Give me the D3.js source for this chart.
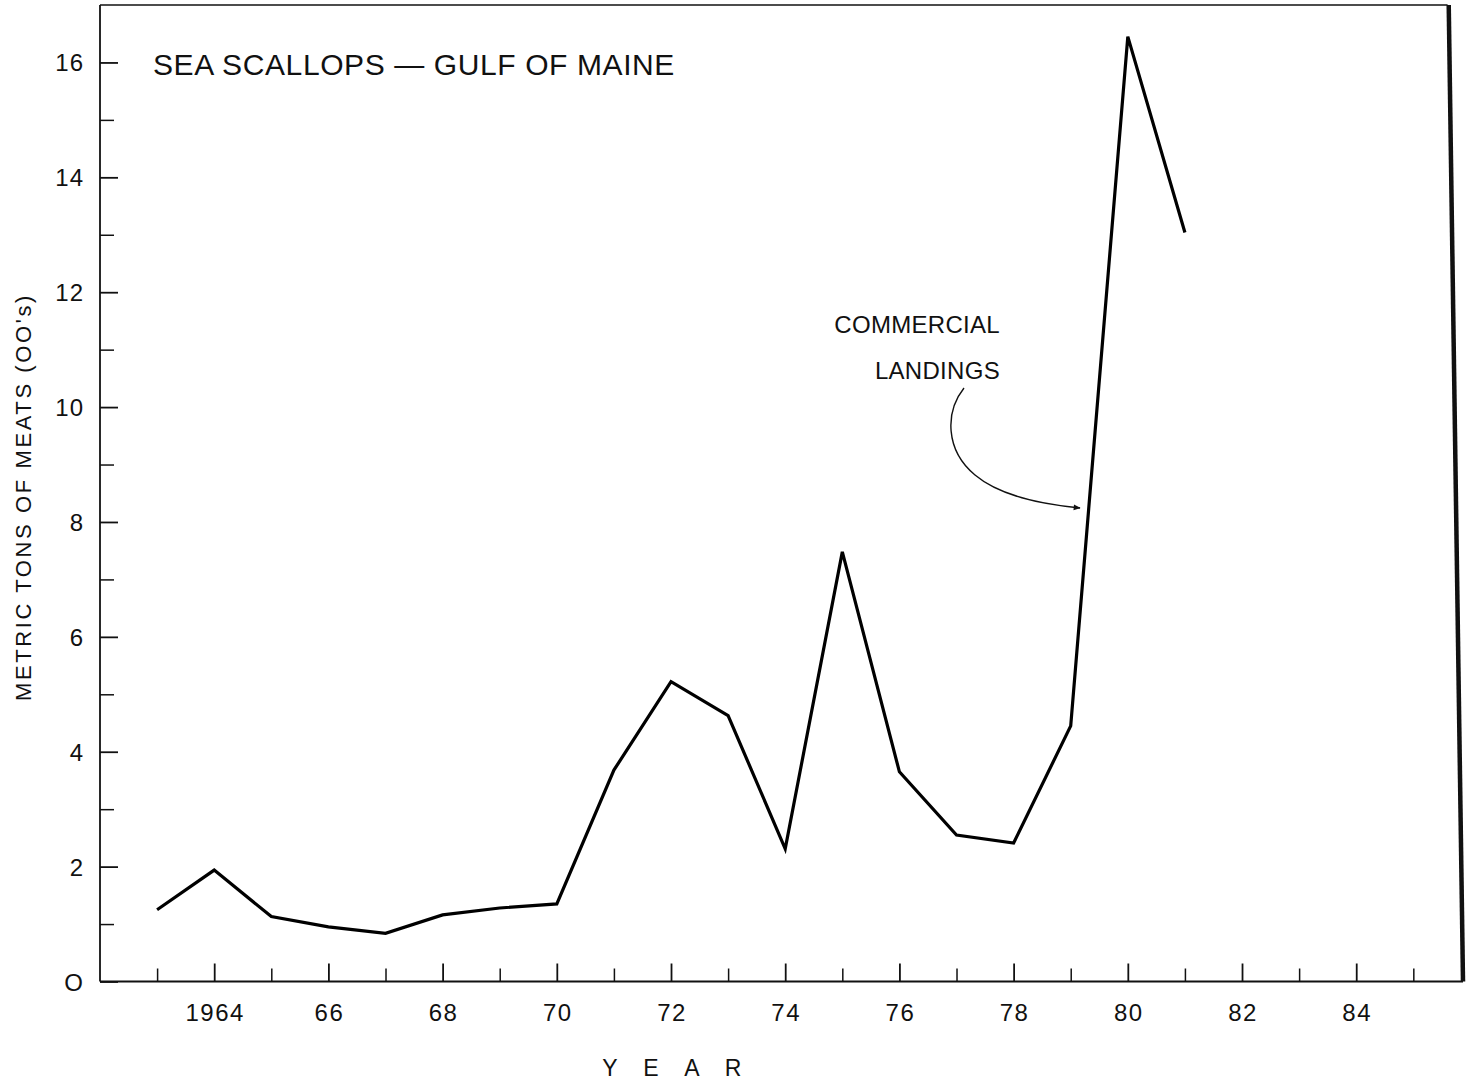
<!DOCTYPE html>
<html><head><meta charset="utf-8">
<script src="https://cdn.jsdelivr.net/npm/d3@7"></script>
<style>body{margin:0;background:#fff}svg{display:block}text{font-family:"Liberation Sans",Arial,sans-serif;fill:#111}</style>
</head><body>
<script>
const years = [1963,1964,1965,1966,1967,1968,1969,1970,1971,1972,1973,1974,1975,1976,1977,1978,1979,1980,1981];
const landings = [1.25,1.94,1.13,0.95,0.84,1.16,1.28,1.35,3.68,5.22,4.63,2.31,7.48,3.65,2.55,2.41,4.45,16.45,13.04];
const xMajorTicks = [1964,1966,1968,1970,1972,1974,1976,1978,1980,1982,1984];
const xTickLabels = ["1964","66","68","70","72","74","76","78","80","82","84"];
const xMinorTicks = [1963,1965,1967,1969,1971,1973,1975,1977,1979,1981,1983,1985];
const yMajorTicks = [0,2,4,6,8,10,12,14,16];
const yMinorTicks = [1,3,5,7,9,11,13,15];
const xTitleLetters = ["Y","E","A","R"];

const W=1470,H=1084;
const svg=d3.select("body").append("svg").attr("width",W).attr("height",H);
const x=d3.scaleLinear().domain([1962,1985.87]).range([100,1463]);
const y=d3.scaleLinear().domain([0,17]).range([981.5,5]);

// frame
svg.append("line").attr("x1",x(1962)).attr("x2",x(1985.6)).attr("y1",y(17)).attr("y2",y(17)).attr("stroke","#111").attr("stroke-width",1.6);
svg.append("line").attr("x1",x(1962)).attr("x2",x(1962)).attr("y1",y(17)).attr("y2",y(0)).attr("stroke","#111").attr("stroke-width",1.8);
svg.append("line").attr("x1",x(1962)).attr("x2",x(1985.87)).attr("y1",y(0)).attr("y2",y(0)).attr("stroke","#111").attr("stroke-width",2.2);
svg.append("line").attr("x1",x(1985.62)).attr("x2",x(1985.87)).attr("y1",y(17)).attr("y2",y(0)).attr("stroke","#111").attr("stroke-width",4.5);

// x axis ticks (inward)
const gx=svg.append("g").attr("transform",`translate(0,${y(0)})`).call(d3.axisTop(x).tickValues(xMajorTicks).tickSize(18).tickFormat(""));
gx.select(".domain").remove();
gx.selectAll("line").attr("stroke","#111").attr("stroke-width",1.8);
const gx2=svg.append("g").attr("transform",`translate(0,${y(0)})`).call(d3.axisTop(x).tickValues(xMinorTicks).tickSize(13).tickFormat(""));
gx2.select(".domain").remove();
gx2.selectAll("line").attr("stroke","#111").attr("stroke-width",1.5);
svg.append("g").selectAll("text").data(xMajorTicks).join("text")
  .attr("x",d=>x(d)+1).attr("y",y(0)+39).attr("text-anchor","middle")
  .attr("font-size",24).attr("letter-spacing",1.5).text((d,i)=>xTickLabels[i]);

// y axis ticks (inward)
const gy=svg.append("g").attr("transform",`translate(${x(1962)},0)`).call(d3.axisRight(y).tickValues(yMajorTicks).tickSize(18).tickFormat(""));
gy.select(".domain").remove();
gy.selectAll("line").attr("stroke","#111").attr("stroke-width",1.8);
const gy2=svg.append("g").attr("transform",`translate(${x(1962)},0)`).call(d3.axisRight(y).tickValues(yMinorTicks).tickSize(14).tickFormat(""));
gy2.select(".domain").remove();
gy2.selectAll("line").attr("stroke","#111").attr("stroke-width",1.5);
svg.append("g").selectAll("text").data(yMajorTicks).join("text")
  .attr("x",84).attr("y",d=>y(d)+9).attr("text-anchor","end")
  .attr("font-size",24).attr("letter-spacing",1).text(d=>d===0?"O":d);

// series line
const line=d3.line().x((d,i)=>x(years[i])).y(d=>y(d));
svg.append("path").datum(landings).attr("d",line).attr("fill","none")
  .attr("stroke","#000").attr("stroke-width",3.2).attr("stroke-linejoin","miter");

// title
svg.append("text").attr("x",153).attr("y",75).attr("font-size",30).attr("letter-spacing",0.6)
  .text("SEA SCALLOPS — GULF OF MAINE");

// axis labels
svg.append("text").attr("transform","translate(31,497) rotate(-90)").attr("text-anchor","middle")
  .attr("font-size",22).attr("letter-spacing",2.6).text("METRIC TONS OF MEATS (OO's)");
svg.append("g").selectAll("text").data(xTitleLetters).join("text")
  .attr("x",(d,i)=>610+i*41).attr("y",1076).attr("text-anchor","middle")
  .attr("font-size",23).text(d=>d);

// annotation
svg.append("text").attr("x",1000).attr("y",333).attr("text-anchor","end").attr("font-size",24).attr("letter-spacing",0.3).text("COMMERCIAL");
svg.append("text").attr("x",1000).attr("y",379).attr("text-anchor","end").attr("font-size",24).attr("letter-spacing",0.3).text("LANDINGS");
svg.append("defs").append("marker").attr("id","ah").attr("viewBox","0 0 10 10")
  .attr("refX",9).attr("refY",5).attr("markerWidth",10).attr("markerHeight",7).attr("orient","auto")
  .attr("markerUnits","userSpaceOnUse")
  .append("path").attr("d","M0,1 L10,5 L0,9 Z").attr("fill","#111");
svg.append("path").attr("d","M964,388 C945,412 945,450 975,475 C1000,496 1040,504 1080,508")
  .attr("fill","none").attr("stroke","#111").attr("stroke-width",1.4).attr("marker-end","url(#ah)");
</script>
</body></html>
